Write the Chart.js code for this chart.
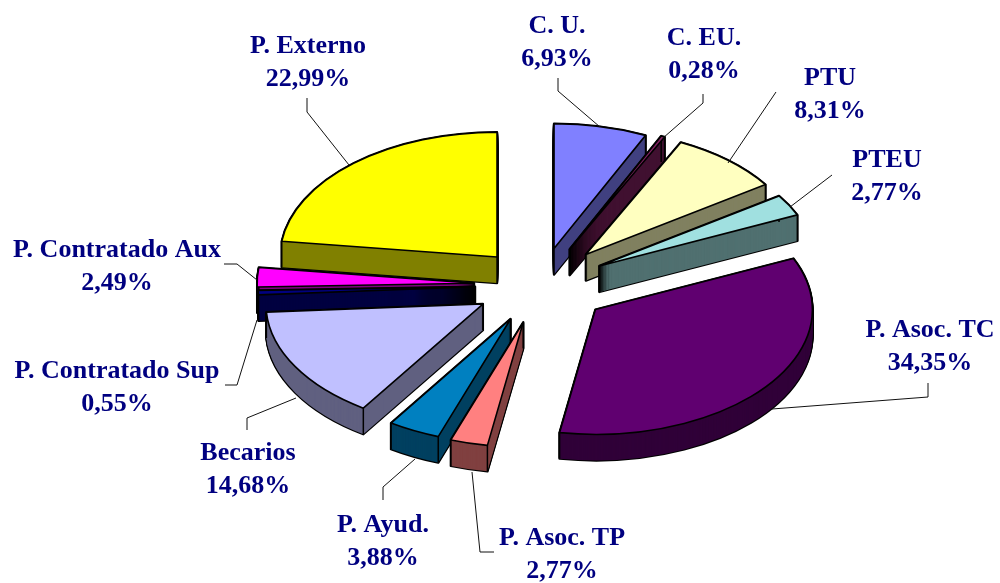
<!DOCTYPE html>
<html><head><meta charset="utf-8">
<style>html,body{margin:0;padding:0;background:#fff}#w{width:1000px;height:583px;position:relative}</style>
<script src="https://cdn.jsdelivr.net/npm/chart.js@4"></script></head>
<body><div id="w"><canvas id="c" width="1000" height="583"></canvas></div>
<script>
const categories = ['C. U.','C. EU.','PTU','PTEU','P. Asoc. TC','P. Asoc. TP','P. Ayud.','Becarios','P. Contratado Sup','P. Contratado Aux','P. Externo'];
const shares = [6.93,0.28,8.31,2.77,34.35,2.77,3.88,14.68,0.55,2.49,22.99];
const shareLabels = ['6,93%','0,28%','8,31%','2,77%','34,35%','2,77%','3,88%','14,68%','0,55%','2,49%','22,99%'];
const topColors = ['#8080FF','#802060','#FFFFC0','#A0E0E0','#600070','#FF8080','#0080C0','#C0C0FF','#000080','#FF00FF','#FFFF00'];
const wallColors = ['#404080','#401030','#808060','#507070','#300038','#804040','#004060','#606080','#000040','#800080','#808000'];
// label layout: centre x, first line baseline y
const labelPos = [[557,33],[704,45],[830,85],[887,167],[930,337],[562,545],[383,532],[248,460],[117,378],[117,257],[308,53]];
// leader polylines
const leaders = [
 [[558,78],[558,91],[600,127]],
 [[703,94],[703,103],[663,138]],
 [[776,92],[728,163]],
 [[832,175],[790,207]],
 [[928,383],[928,397],[772,409]],
 [[494,552],[480,552],[472,472]],
 [[383,500],[383,487],[415,459]],
 [[247,430],[247,418],[296,398]],
 [[225,385],[237,385],[257,320]],
 [[224,264],[237,264],[257,280]],
 [[307,98],[307,112],[349,165]]
];
// how far each slice is pulled out of the pie
const explodeBy = [65,69,70,68,70,67,66,66,65,66,65];
const SQ = 0.575, DEPTH = 26, RADIUS = 217;

function slicePath(ctx, a){
  ctx.beginPath();
  ctx.moveTo(a.x,a.y);
  ctx.arc(a.x,a.y,a.outerRadius,a.startAngle,a.endAngle);
  ctx.closePath();
}
const squash = (ctx, cy) => { ctx.translate(0,cy); ctx.scale(1,SQ); ctx.translate(0,-cy); };
const centreY = chart => (chart.chartArea.top + chart.chartArea.bottom)/2;

const pie3d = {
  id:'pie3d',
  afterDatasetsUpdate(chart){
    chart.getDatasetMeta(0).data.forEach((a,i)=>{
      const mid=(a.startAngle+a.endAngle)/2;
      a.x += Math.cos(mid)*explodeBy[i];
      a.y += Math.sin(mid)*explodeBy[i];
    });
  },
  beforeDatasetsDraw(chart){
    const ctx = chart.ctx, arcs = chart.getDatasetMeta(0).data, cy = centreY(chart);
    const depthKey = a => Math.sin((a.startAngle+a.endAngle)/2);
    const order = arcs.map((_,i)=>i).sort((p,q)=>depthKey(arcs[p])-depthKey(arcs[q]));
    order.forEach(i=>{
      const a = arcs[i];
      ctx.save();
      ctx.lineJoin='round';
      for(let k=DEPTH;k>=0;k--){
        ctx.save(); ctx.translate(0,k); squash(ctx,cy); slicePath(ctx,a); ctx.restore();
        ctx.strokeStyle='#000'; ctx.lineWidth=2.4; ctx.stroke();
      }
      for(let k=DEPTH;k>=0;k--){
        ctx.save(); ctx.translate(0,k); squash(ctx,cy); slicePath(ctx,a); ctx.restore();
        ctx.fillStyle=wallColors[i]; ctx.fill();
      }
      const pts=[[a.x,a.y],
        [a.x+Math.cos(a.startAngle)*a.outerRadius,a.y+Math.sin(a.startAngle)*a.outerRadius],
        [a.x+Math.cos(a.endAngle)*a.outerRadius,a.y+Math.sin(a.endAngle)*a.outerRadius]];
      ctx.strokeStyle='#000'; ctx.lineWidth=1.5;
      pts.forEach(p=>{
        const sy=cy+(p[1]-cy)*SQ;
        ctx.beginPath(); ctx.moveTo(p[0],sy); ctx.lineTo(p[0],sy+DEPTH); ctx.stroke();
      });
      ctx.restore();
    });
    ctx.save();
    squash(ctx, cy);
  },
  afterDatasetsDraw(chart){
    const ctx = chart.ctx, cy = centreY(chart);
    ctx.restore();
    chart.getDatasetMeta(0).data.forEach(a=>{
      ctx.save(); squash(ctx,cy); slicePath(ctx,a); ctx.restore();
      ctx.strokeStyle='#000'; ctx.lineWidth=1.6; ctx.lineJoin='round'; ctx.stroke();
    });
    ctx.save(); ctx.strokeStyle='#111'; ctx.lineWidth=1;
    leaders.forEach(l=>{ ctx.beginPath(); l.forEach((p,i)=> i?ctx.lineTo(p[0],p[1]):ctx.moveTo(p[0],p[1])); ctx.stroke(); });
    ctx.fillStyle='#000080'; ctx.textAlign='center'; ctx.textBaseline='alphabetic';
    ctx.font='bold 26px "Liberation Serif"';
    categories.forEach((c,i)=>{
      const [x,y]=labelPos[i];
      ctx.fillText(c,x,y);
      ctx.fillText(shareLabels[i],x,y+33);
    });
    ctx.restore();
  }
};

new Chart(document.getElementById('c'),{
  type:'pie',
  data:{labels:categories,datasets:[{data:shares,backgroundColor:topColors,borderWidth:0,hoverOffset:0}]},
  options:{
    responsive:false,animation:false,radius:RADIUS,
    layout:{padding:{left:290,right:210,top:35,bottom:48}},
    plugins:{legend:{display:false},tooltip:{enabled:false},title:{display:false}},
    events:[]
  },
  plugins:[pie3d]
});
</script></body></html>
